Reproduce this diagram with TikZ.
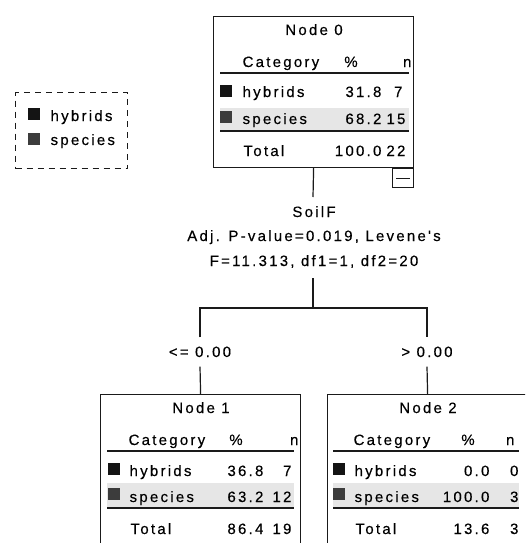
\documentclass[tikz,border=0pt]{standalone}
\usepackage{fontspec}
\newfontfamily\treefam{Liberation Sans}[LetterSpace=15,FakeBold=0.3]
\newcommand\treefont{\treefam\fontsize{15}{18}\selectfont}
\definecolor{hybcol}{HTML}{141414}
\definecolor{spccol}{HTML}{3C3C3C}
\definecolor{bandgray}{HTML}{E6E6E6}
\definecolor{inkcol}{HTML}{1A1A1A}
\begin{document}
\begin{tikzpicture}[x=1pt,y=-1pt,line width=1.2pt,draw=inkcol,
  box/.style={draw=inkcol,fill=white,line width=1.2pt,minimum width=200pt,
    minimum height=151pt,anchor=north west,inner sep=0pt},
  lbl/.style={font=\treefont,text=black,inner sep=0pt},
  edgelbl/.style={lbl,anchor=base,text height=10pt,text depth=0pt,inner ysep=9pt},
  hybsq/.style={fill=hybcol},
  spcsq/.style={fill=spccol},
  rowband/.style={fill=bandgray},
  rulel/.style={draw=inkcol,line width=1.2pt}]
\clip (0,0) rectangle (525,543);
\fill[white] (0,0) rectangle (525,543);

% legend
\node[draw=inkcol,dash pattern=on 6pt off 5pt,line width=1.2pt,minimum width=112pt,
  minimum height=76pt,anchor=north west,inner sep=0pt] (legend) at (15,92) {};
\fill[hybsq] (28,108) rectangle (40,120);
\node[lbl,anchor=base west] (leghyb) at (50,121) {hybrids};
\fill[spcsq] (28,133) rectangle (40,145);
\node[lbl,anchor=base west] (legspc) at (50,145) {species};

% Node 0
\begin{scope}[shift={(213,16)}]
  \node[box] (n0) at (0,0) {};
  \fill[rowband] (7,92) rectangle (196,115);
  \draw[rulel] (7,57) -- (196,57);
  \draw[rulel] (7,115) -- (196,115);
  \node[lbl,anchor=base] at (101,19) {Node 0};
  \node[lbl,anchor=base west] at (29,51) {Category};
  \node[lbl,anchor=base] at (138,51) {\%};
  \node[lbl,anchor=base east] at (199,51) {n};
  \fill[hybsq] (7,69) rectangle (19,81);
  \node[lbl,anchor=base west] at (29,81) {hybrids};
  \node[lbl,anchor=base east] at (169,81) {31.8};
  \node[lbl,anchor=base east] at (190,81) {7};
  \fill[spcsq] (7,95) rectangle (19,107);
  \node[lbl,anchor=base west] at (29,108) {species};
  \node[lbl,anchor=base east] at (169,108) {68.2};
  \node[lbl,anchor=base east] at (193,108) {15};
  \node[lbl,anchor=base west] at (30,140) {Total};
  \node[lbl,anchor=base east] at (169,140) {100.0};
  \node[lbl,anchor=base east] at (193,140) {22};
  \node[draw=inkcol,fill=white,line width=1.2pt,minimum width=21pt,minimum height=19pt,
    inner sep=0pt,anchor=north east] (n0toggle) at (n0.south east) {};
  \draw[line width=1pt] ([xshift=4pt]n0toggle.west) -- ([xshift=-4pt]n0toggle.east);
\end{scope}

% split description
\coordinate (s0) at (313,197);
\coordinate (s1) at (313,278);
\coordinate (hub) at (313,308);
\coordinate (bl) at (200,308);
\coordinate (br) at (427,308);
\node[lbl,anchor=base] (splitvar) at (314,217) {SoilF};
\node[lbl,anchor=base] (splitp) at (314,241) {Adj. P-value=0.019, Levene's};
\node[lbl,anchor=base] (splitf) at (314,266) {F=11.313, df1=1, df2=20};
\node[edgelbl] (le) at (200,357) {<= 0.00};
\node[edgelbl] (ri) at (427,357) {> 0.00};

% Node 1
\begin{scope}[shift={(100,394)}]
  \node[box] (n1) at (0,0) {};
  \fill[rowband] (7,89) rectangle (194,114);
  \draw[rulel] (7,57) -- (194,57);
  \draw[rulel] (7,114) -- (194,114);
  \node[lbl,anchor=base] at (101,19) {Node 1};
  \node[lbl,anchor=base west] at (28,51) {Category};
  \node[lbl,anchor=base] at (136,51) {\%};
  \node[lbl,anchor=base east] at (199,51) {n};
  \fill[hybsq] (8,69) rectangle (20,81);
  \node[lbl,anchor=base west] at (29,82) {hybrids};
  \node[lbl,anchor=base east] at (164,82) {36.8};
  \node[lbl,anchor=base east] at (192,82) {7};
  \fill[spcsq] (8,94) rectangle (20,106);
  \node[lbl,anchor=base west] at (29,108) {species};
  \node[lbl,anchor=base east] at (164,108) {63.2};
  \node[lbl,anchor=base east] at (192,108) {12};
  \node[lbl,anchor=base west] at (30,140) {Total};
  \node[lbl,anchor=base east] at (164,140) {86.4};
  \node[lbl,anchor=base east] at (192,140) {19};
\end{scope}

% Node 2
\begin{scope}[shift={(327,394)}]
  \node[box] (n2) at (0,0) {};
  \fill[rowband] (6,89) rectangle (192,114);
  \draw[rulel] (6,57) -- (192,57);
  \draw[rulel] (6,114) -- (192,114);
  \node[lbl,anchor=base] at (101,19) {Node 2};
  \node[lbl,anchor=base west] at (26,51) {Category};
  \node[lbl,anchor=base] at (141,51) {\%};
  \node[lbl,anchor=base east] at (188,51) {n};
  \fill[hybsq] (6,69) rectangle (18,81);
  \node[lbl,anchor=base west] at (27,82) {hybrids};
  \node[lbl,anchor=base east] at (163,82) {0.0};
  \node[lbl,anchor=base east] at (192,82) {0};
  \fill[spcsq] (6,94) rectangle (18,106);
  \node[lbl,anchor=base west] at (27,108) {species};
  \node[lbl,anchor=base east] at (163,108) {100.0};
  \node[lbl,anchor=base east] at (192,108) {3};
  \node[lbl,anchor=base west] at (28,140) {Total};
  \node[lbl,anchor=base east] at (163,140) {13.6};
  \node[lbl,anchor=base east] at (192,140) {3};
\end{scope}

% connectors
\draw (n0.south) -- (s0);
\draw (s1) -- (hub);
\draw (le.north) -- (bl) -- (br) -- (ri.north);
\draw (le.south) -- (n1.north);
\draw (ri.south) -- (n2.north);
\end{tikzpicture}
\end{document}
